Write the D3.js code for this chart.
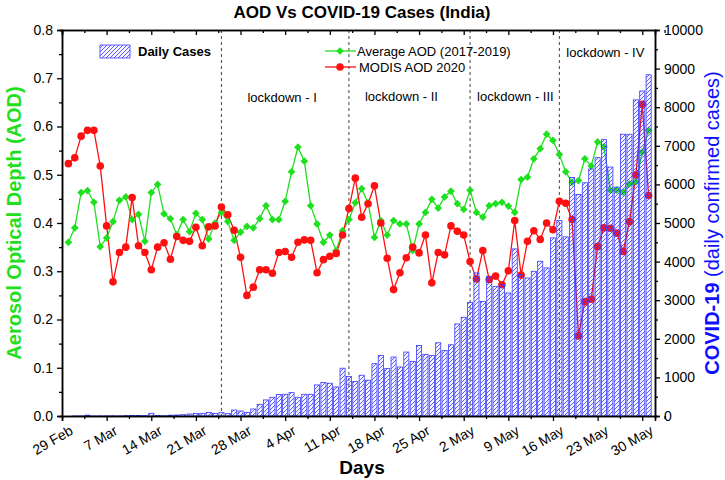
<!DOCTYPE html>
<html>
<head>
<meta charset="utf-8">
<script src="https://cdn.jsdelivr.net/npm/d3@7"></script>
<style>
body { margin: 0; background: #fff; }
svg { font-family: "Liberation Sans", Arial, sans-serif; }
</style>
</head>
<body>
<svg id="chart" width="725" height="480"></svg>
<script>
// day 0 = 29 Feb 2020, series start on 1 Mar (day 1)
var tickDays = [0, 7, 14, 21, 28, 35, 42, 49, 56, 63, 70, 77, 84, 91];
var tickLabels = ["29 Feb", "7 Mar", "14 Mar", "21 Mar", "28 Mar", "4 Apr", "11 Apr",
    "18 Apr", "25 Apr", "2 May", "9 May", "16 May", "23 May", "30 May"];

var aodAvg = [0.360, 0.390, 0.463, 0.467, 0.443, 0.351, 0.369, 0.403, 0.447, 0.454,
    0.407, 0.418, 0.362, 0.463, 0.480, 0.419, 0.409, 0.376, 0.407, 0.382,
    0.420, 0.407, 0.367, 0.400, 0.422, 0.403, 0.364, 0.381, 0.393, 0.390,
    0.409, 0.436, 0.407, 0.407, 0.445, 0.506, 0.557, 0.528, 0.436, 0.398,
    0.360, 0.375, 0.343, 0.384, 0.407, 0.442, 0.471, 0.442, 0.370, 0.405,
    0.375, 0.405, 0.398, 0.398, 0.343, 0.398, 0.422, 0.449, 0.431, 0.454,
    0.466, 0.440, 0.428, 0.468, 0.422, 0.412, 0.436, 0.440, 0.443, 0.435,
    0.422, 0.490, 0.495, 0.533, 0.554, 0.584, 0.571, 0.542, 0.506, 0.484,
    0.488, 0.533, 0.518, 0.568, 0.558, 0.468, 0.468, 0.464, 0.481, 0.485,
    0.547, 0.592];

var aodModis = [0.523, 0.535, 0.580, 0.592, 0.592, 0.518, 0.394, 0.278, 0.339, 0.350,
    0.453, 0.353, 0.339, 0.303, 0.350, 0.359, 0.325, 0.372, 0.364, 0.362,
    0.391, 0.353, 0.392, 0.394, 0.433, 0.417, 0.385, 0.329, 0.250, 0.267,
    0.303, 0.303, 0.296, 0.339, 0.341, 0.329, 0.360, 0.365, 0.364, 0.297,
    0.324, 0.331, 0.337, 0.375, 0.430, 0.493, 0.412, 0.440, 0.477, 0.400,
    0.327, 0.262, 0.297, 0.328, 0.350, 0.338, 0.375, 0.276, 0.339, 0.334,
    0.394, 0.383, 0.375, 0.320, 0.284, 0.343, 0.283, 0.290, 0.272, 0.301,
    0.405, 0.292, 0.362, 0.384, 0.366, 0.400, 0.386, 0.445, 0.441, 0.407,
    0.166, 0.237, 0.242, 0.351, 0.390, 0.389, 0.379, 0.341, 0.403, 0.500,
    0.646, 0.457];

var dailyCases = [0, 1, 1, 22, 1, 2, 3, 5, 3, 10,
    12, 12, 10, 70, 15, 8, 20, 26, 35, 52,
    69, 69, 95, 69, 87, 61, 156, 130, 95, 182,
    303, 416, 485, 554, 563, 606, 485, 563, 563, 805,
    866, 848, 753, 1238, 1022, 892, 1056, 927, 1356, 1571,
    1227, 1528, 1270, 1657, 1416, 1828, 1597, 1571, 1897, 1700,
    1845, 2386, 2558, 2944, 3706, 2969, 3618, 3359, 3403, 3186,
    4329, 3662, 3576, 3749, 4009, 3836, 4615, 5065, 4641, 6180,
    5740, 6043, 6400, 6693, 7160, 6450, 5930, 7300, 7300, 8190,
    8420, 8840];

var lockdownDays = [25, 45, 64, 78];
var lockdownNames = ["lockdown - I", "lockdown - II", "lockdown - III", "lockdown - IV"];

var green = "#1ee01e", red = "#ff1010", blue = "#3a3aff";

var plotL = 62, plotR = 655, plotT = 30, plotB = 416;

var svg = d3.select("#chart");

var x = d3.scaleLinear().domain([0, 93]).range([plotL, plotR]);
var yAod = d3.scaleLinear().domain([0, 0.8]).range([plotB, plotT]);
var yCases = d3.scaleLinear().domain([0, 10000]).range([plotB, plotT]);

// hatch for the bars
var defs = svg.append("defs");
var pat = defs.append("pattern")
    .attr("id", "hatch")
    .attr("patternUnits", "userSpaceOnUse")
    .attr("width", 4).attr("height", 4);
pat.append("rect").attr("width", 4).attr("height", 4).attr("fill", "rgba(90,90,255,0.06)");
pat.append("path")
    .attr("d", "M-1,1 l2,-2 M0,4 l4,-4 M3,5 l2,-2")
    .attr("stroke", blue).attr("stroke-width", 0.8);

// lockdown dashed lines
svg.selectAll(".lock")
    .data(lockdownDays)
    .enter().append("line")
    .attr("x1", function (d) { return x(d); })
    .attr("x2", function (d) { return x(d); })
    .attr("y1", plotT).attr("y2", plotB)
    .attr("stroke", "#444").attr("stroke-width", 1)
    .attr("stroke-dasharray", "3,3");

var lockOffsets = [[26, 97], [16, 96], [7, 96], [7, 52]];
svg.selectAll(".lockText")
    .data(lockdownNames)
    .enter().append("text")
    .attr("x", function (d, i) { return x(lockdownDays[i]) + lockOffsets[i][0]; })
    .attr("y", function (d, i) { return lockOffsets[i][1] + 5; })
    .attr("font-size", 13)
    .text(function (d) { return d; });

// lines + markers
var lineAvg = d3.line()
    .x(function (d, i) { return x(i + 1); })
    .y(function (d) { return yAod(d); });

svg.append("path")
    .datum(aodAvg)
    .attr("d", lineAvg)
    .attr("fill", "none").attr("stroke", green).attr("stroke-width", 1.3);

svg.append("path")
    .datum(aodModis)
    .attr("d", lineAvg)
    .attr("fill", "none").attr("stroke", red).attr("stroke-width", 1.3);

var diamond = d3.symbol().type(d3.symbolSquare).size(30);

svg.selectAll(".avgPt")
    .data(aodAvg)
    .enter().append("path")
    .attr("d", diamond)
    .attr("transform", function (d, i) {
        return "translate(" + x(i + 1) + "," + yAod(d) + ") rotate(45)";
    })
    .attr("fill", green);

svg.selectAll(".modisPt")
    .data(aodModis)
    .enter().append("circle")
    .attr("cx", function (d, i) { return x(i + 1); })
    .attr("cy", function (d) { return yAod(d); })
    .attr("r", 3.8)
    .attr("fill", red);

// bars on top
var bw = (x(1) - x(0)) * 0.8;
svg.selectAll(".bar")
    .data(dailyCases)
    .enter().append("rect")
    .attr("x", function (d, i) { return x(i + 1) - bw / 2; })
    .attr("width", bw)
    .attr("y", function (d) { return yCases(d); })
    .attr("height", function (d) { return plotB - yCases(d); })
    .attr("fill", "url(#hatch)")
    .attr("stroke", blue).attr("stroke-width", 0.8)
    .attr("stroke-opacity", function (d) { return d > 0 ? 1 : 0; });

// axes
var minorDays = tickDays.map(function (d) { return d + 3.5; });

var axisB = svg.append("g")
    .attr("transform", "translate(0," + plotB + ")")
    .call(d3.axisBottom(x).tickValues(tickDays).tickSize(5).tickPadding(4)
        .tickFormat(function (d, i) { return tickLabels[i]; }));
axisB.selectAll("text")
    .attr("font-size", 14)
    .attr("text-anchor", "end")
    .attr("transform", function () { return "translate(2,1) rotate(-30)"; });
svg.append("g")
    .attr("transform", "translate(0," + plotB + ")")
    .call(d3.axisBottom(x).tickValues(minorDays).tickSize(3).tickFormat(""));

svg.append("g")
    .attr("transform", "translate(0," + plotT + ")")
    .call(d3.axisTop(x).tickValues(tickDays).tickSize(-5).tickFormat(""));
svg.append("g")
    .attr("transform", "translate(0," + plotT + ")")
    .call(d3.axisTop(x).tickValues(minorDays).tickSize(-3).tickFormat(""));

svg.append("g")
    .attr("transform", "translate(" + plotL + ",0)")
    .call(d3.axisLeft(yAod).tickValues(d3.range(0, 0.81, 0.1)).tickSize(5).tickPadding(4)
        .tickFormat(d3.format(".1f")))
    .selectAll("text").attr("font-size", 14);
svg.append("g")
    .attr("transform", "translate(" + plotL + ",0)")
    .call(d3.axisLeft(yAod).tickValues(d3.range(0.05, 0.8, 0.1)).tickSize(3).tickFormat(""));

svg.append("g")
    .attr("transform", "translate(" + plotR + ",0)")
    .call(d3.axisRight(yCases).tickValues(d3.range(0, 10001, 1000)).tickSize(5).tickPadding(4)
        .tickFormat(d3.format("d")))
    .selectAll("text").attr("font-size", 14);
svg.append("g")
    .attr("transform", "translate(" + plotR + ",0)")
    .call(d3.axisRight(yCases).tickValues(d3.range(500, 10000, 1000)).tickSize(3).tickFormat(""));

svg.selectAll(".domain").attr("stroke-width", 1.5);
svg.selectAll(".tick line").attr("stroke-width", 1.3);

// legends
svg.append("rect")
    .attr("x", 100).attr("y", 45).attr("width", 30).attr("height", 13)
    .attr("fill", "url(#hatch)").attr("stroke", blue).attr("stroke-width", 0.8);
svg.append("text")
    .attr("x", 138).attr("y", 56)
    .attr("font-size", 13).attr("font-weight", "bold")
    .text("Daily Cases");

svg.append("line").attr("x1", 325).attr("x2", 356).attr("y1", 51).attr("y2", 51)
    .attr("stroke", green).attr("stroke-width", 1.3);
svg.append("path").attr("d", diamond)
    .attr("transform", "translate(340,51) rotate(45)").attr("fill", green);
svg.append("text").attr("x", 357).attr("y", 56).attr("font-size", 13)
    .text("Average AOD (2017-2019)");

svg.append("line").attr("x1", 325).attr("x2", 356).attr("y1", 67).attr("y2", 67)
    .attr("stroke", red).attr("stroke-width", 1.3);
svg.append("circle").attr("cx", 340).attr("cy", 67).attr("r", 3.8).attr("fill", red);
svg.append("text").attr("x", 359).attr("y", 72).attr("font-size", 13)
    .text("MODIS AOD 2020");

// titles
svg.append("text")
    .attr("x", 362).attr("y", 18)
    .attr("text-anchor", "middle")
    .attr("font-size", 17).attr("font-weight", "bold")
    .text("AOD Vs COVID-19 Cases (India)");

svg.append("text")
    .attr("x", 362).attr("y", 474)
    .attr("text-anchor", "middle")
    .attr("font-size", 19).attr("font-weight", "bold")
    .text("Days");

svg.append("text")
    .attr("transform", "translate(21," + (plotT + plotB) / 2 + ") rotate(-90)")
    .attr("text-anchor", "middle")
    .attr("font-size", 20).attr("font-weight", "bold")
    .attr("fill", green)
    .text("Aerosol Optical Depth (AOD)");

var rl = svg.append("text")
    .attr("transform", "translate(719," + (plotT + plotB) / 2 + ") rotate(-90)")
    .attr("text-anchor", "middle")
    .attr("font-size", 20)
    .attr("fill", "#1010ff");
rl.append("tspan").attr("font-weight", "bold").text("COVID-19");
rl.append("tspan").text(" (daily confirmed cases)");
</script>
</body>
</html>
